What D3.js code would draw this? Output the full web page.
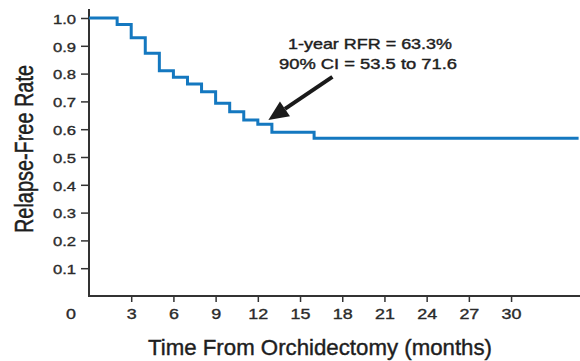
<!DOCTYPE html>
<html>
<head>
<meta charset="utf-8">
<script src="https://cdn.jsdelivr.net/npm/d3@7"></script>
<style>
  html, body { margin: 0; padding: 0; background: #fff; }
  svg { display: block; }
  text { paint-order: stroke; }
</style>
</head>
<body>
<script>
// Kaplan-Meier relapse-free estimate: step times (months) and rates
const stepTimes = [0, 2, 3, 4, 5, 6, 7, 8, 9, 10, 11, 12, 13, 16];
const stepRates = [1.0, 0.977, 0.929, 0.873, 0.81, 0.787, 0.763, 0.735, 0.693, 0.663, 0.633, 0.618, 0.589, 0.567];
const lastFollowUp = 34.8;

const xTickValues = [3, 6, 9, 12, 15, 18, 21, 24, 27, 30];
const yTickValues = [0.1, 0.2, 0.3, 0.4, 0.5, 0.6, 0.7, 0.8, 0.9, 1.0];

const annotationLines = ["1-year RFR = 63.3%", "90% CI = 53.5 to 71.6"];
const arrowFrom = { t: 17.3, v: 0.788 };
const arrowTo = { t: 12.75, v: 0.633 };

const W = 580, H = 361;
const svg = d3.select("body").append("svg").attr("width", W).attr("height", H);

const x = d3.scaleLinear().domain([0, 34.9]).range([89, 580]);
const y = d3.scaleLinear().domain([0, 1]).range([296, 18]);

const axisColor = "#333";
const textColor = "#2a2a2a";
const tickFont = "'Liberation Sans', Arial, sans-serif";
const titleFont = "'Liberation Sans Narrow', 'Liberation Sans', Arial, sans-serif";
const wide = 1.28; // horizontal widening of the typeface

function heavy(sel, color, w) {
  sel.attr("fill", color).attr("stroke", color).attr("stroke-width", w);
}

// Y axis
const yAxis = svg.append("g").attr("transform", `translate(${x(0)},0)`)
  .call(d3.axisLeft(y).tickValues(yTickValues).tickFormat(d3.format(".1f")).tickSize(8).tickPadding(5));
yAxis.select(".domain").remove();
yAxis.append("line").attr("x1", 0).attr("x2", 0).attr("y1", y(0) + 1).attr("y2", y(1.032))
  .attr("stroke", axisColor).attr("stroke-width", 2);
yAxis.selectAll(".tick line").attr("stroke", axisColor).attr("stroke-width", 1.5);
yAxis.selectAll(".tick text")
  .attr("x", -13 / wide).attr("dy", "0.4em").attr("transform", `scale(${wide},1)`)
  .style("font-family", tickFont).style("font-size", "13px")
  .call(heavy, textColor, 0.35);

// X axis
const xAxis = svg.append("g").attr("transform", `translate(0,${y(0)})`)
  .call(d3.axisBottom(x).tickValues(xTickValues).tickSize(6).tickPadding(7));
xAxis.select(".domain").remove();
xAxis.append("line").attr("x1", x(0) - 1).attr("x2", W).attr("y1", 0).attr("y2", 0)
  .attr("stroke", axisColor).attr("stroke-width", 2);
xAxis.selectAll(".tick line").attr("stroke", axisColor).attr("stroke-width", 1.5);
xAxis.selectAll(".tick text").attr("transform", `scale(${wide},1)`)
  .style("font-family", tickFont).style("font-size", "14px")
  .call(heavy, textColor, 0.35);

// shared origin label
svg.append("text").attr("transform", `translate(71,319) scale(${wide},1)`).attr("text-anchor", "middle")
  .style("font-family", tickFont).style("font-size", "14px").text("0")
  .call(heavy, textColor, 0.35);

// Survival curve
const curveData = stepTimes.map((t, i) => ({ t, v: stepRates[i] }));
curveData.push({ t: lastFollowUp, v: stepRates[stepRates.length - 1] });
const line = d3.line().x(d => x(d.t)).y(d => y(d.v)).curve(d3.curveStepAfter);
svg.append("path").datum(curveData).attr("d", line)
  .attr("fill", "none").attr("stroke", "#1478c0").attr("stroke-width", 3).attr("stroke-linejoin", "miter");

// Axis titles
svg.append("text").attr("x", 320).attr("y", 355).attr("text-anchor", "middle")
  .style("font-family", titleFont).style("font-size", "22px")
  .attr("textLength", 344).attr("lengthAdjust", "spacingAndGlyphs")
  .text("Time From Orchidectomy (months)")
  .call(heavy, "#1e1e1e", 0.4);
svg.append("text").attr("transform", "translate(33,149) rotate(-90) scale(1,1.25)").attr("text-anchor", "middle")
  .style("font-family", titleFont).style("font-size", "20px")
  .attr("textLength", 168).attr("lengthAdjust", "spacingAndGlyphs")
  .text("Relapse-Free Rate")
  .call(heavy, "#1e1e1e", 0.4);

// Annotation
const annWidths = [164, 178];
const annCenters = [370, 368];
svg.append("g").selectAll("text").data(annotationLines).join("text")
  .attr("x", (d, i) => annCenters[i]).attr("y", (d, i) => 49 + i * 20)
  .attr("text-anchor", "middle")
  .style("font-family", tickFont).style("font-size", "14.4px")
  .attr("textLength", (d, i) => annWidths[i]).attr("lengthAdjust", "spacingAndGlyphs")
  .text(d => d)
  .call(heavy, "#1e1e1e", 0.4);

// Arrow pointing at the 1-year estimate
const x1 = x(arrowFrom.t), y1 = y(arrowFrom.v), x2 = x(arrowTo.t), y2 = y(arrowTo.v);
const ang = Math.atan2(y2 - y1, x2 - x1);
const headLen = 20, headHalf = 9;
const bx = x2 - headLen * Math.cos(ang), by = y2 - headLen * Math.sin(ang);
svg.append("line").attr("x1", x1).attr("y1", y1).attr("x2", bx).attr("y2", by)
  .attr("stroke", "#1a1a1a").attr("stroke-width", 4);
const px = -Math.sin(ang), py = Math.cos(ang);
svg.append("path")
  .attr("d", `M${x2},${y2}L${bx + px * headHalf},${by + py * headHalf}L${bx - px * headHalf},${by - py * headHalf}Z`)
  .attr("fill", "#1a1a1a");
</script>
</body>
</html>
